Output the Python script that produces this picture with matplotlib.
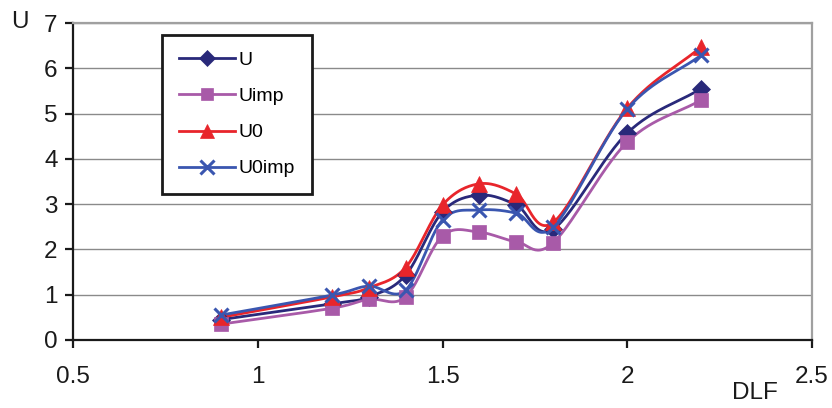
import numpy as np
import matplotlib
matplotlib.use("Agg")
import matplotlib.pyplot as plt

plt.rcParams['font.family'] = ['Liberation Sans', 'DejaVu Sans']

dlf = [0.9, 1.2, 1.3, 1.4, 1.5, 1.6, 1.7, 1.8, 2.0, 2.2]
U = [0.45, 0.80, 0.95, 1.43, 2.83, 3.20, 2.98, 2.45, 4.57, 5.55]
Uimp = [0.35, 0.70, 0.90, 0.95, 2.30, 2.38, 2.17, 2.15, 4.37, 5.30]
U0 = [0.50, 0.95, 1.15, 1.60, 2.98, 3.45, 3.22, 2.60, 5.12, 6.47]
U0imp = [0.55, 0.99, 1.19, 1.10, 2.65, 2.87, 2.80, 2.50, 5.10, 6.29]

series = [
    ("U", U, "#29297A", "D", 9.5),
    ("Uimp", Uimp, "#A85AA8", "s", 10),
    ("U0", U0, "#E8252B", "^", 11),
    ("U0imp", U0imp, "#3A56B0", "x", 10.5),
]


def smooth(x, y, n=30):
    # Catmull-Rom style smoothing between given points (like Excel smoothed lines)
    x = np.asarray(x, float)
    y = np.asarray(y, float)
    px = np.concatenate([[2 * x[0] - x[1]], x, [2 * x[-1] - x[-2]]])
    py = np.concatenate([[2 * y[0] - y[1]], y, [2 * y[-1] - y[-2]]])
    xs, ys = [], []
    for i in range(1, len(px) - 2):
        p0, p1, p2, p3 = (np.array([px[j], py[j]]) for j in range(i - 1, i + 3))
        c1 = p1 + (p2 - p0) / 6.0
        c2 = p2 - (p3 - p1) / 6.0
        t = np.linspace(0, 1, n)[:, None]
        b = ((1 - t) ** 3) * p1 + 3 * ((1 - t) ** 2) * t * c1 + 3 * (1 - t) * t ** 2 * c2 + t ** 3 * p2
        xs.append(b[:, 0])
        ys.append(b[:, 1])
    return np.concatenate(xs), np.concatenate(ys)


fig = plt.figure(figsize=(8.32, 4.08), dpi=100)
ax = fig.add_axes([73 / 832, (408 - 340) / 408, (812 - 73) / 832, (340 - 23) / 408])

handles = []
for name, vals, col, mk, ms in series:
    sx, sy = smooth(dlf, vals)
    ax.plot(sx, sy, color=col, lw=2.0, zorder=3)
    mew = 2.2 if mk == "x" else 0.5
    ax.plot(dlf, vals, linestyle='none', marker=mk, color=col, markersize=ms,
            markeredgewidth=mew, zorder=4)
    h, = ax.plot([], [], color=col, lw=2.0, marker=mk, markersize=ms - 1,
                 markeredgewidth=mew)
    handles.append(h)

ax.set_xlim(0.5, 2.5)
ax.set_ylim(0, 7)
ax.set_xticks([0.5, 1, 1.5, 2, 2.5])
ax.set_xticklabels(["0.5", "1", "1.5", "2", "2.5"])
ax.set_yticks(range(0, 8))
ax.yaxis.grid(True, color="#8a8a8a", lw=1.0)
ax.set_axisbelow(True)
for s in ["left", "bottom"]:
    ax.spines[s].set_color("#1a1a1a")
    ax.spines[s].set_linewidth(1.6)
for s in ["top", "right"]:
    ax.spines[s].set_color("#a0a0a0")
    ax.spines[s].set_linewidth(1.6)
ax.tick_params(axis='both', direction='out', length=6, width=1.6, color="#1a1a1a",
               labelsize=17.5, colors="#1a1a1a")
ax.tick_params(axis='x', pad=13)
ax.tick_params(axis='y', pad=5)

fig.text(11 / 832, 1 - 22 / 408, "U", fontsize=17.5, ha="left", va="center", color="#1a1a1a")
fig.text(755 / 832, 1 - 393 / 408, "DLF", fontsize=17.5, ha="center", va="center", color="#1a1a1a")

leg = fig.legend(handles, [s[0] for s in series], loc="upper left",
                 bbox_to_anchor=(162 / 832, 1 - 35 / 408), fontsize=14,
                 handlelength=2.9, handletextpad=0.2, labelspacing=0.95,
                 borderpad=0.85, borderaxespad=0, fancybox=False, framealpha=1,
                 edgecolor="#1a1a1a")
leg.get_frame().set_linewidth(2.0)
leg.set_zorder(10)

fig.savefig("out.png", dpi=100)
